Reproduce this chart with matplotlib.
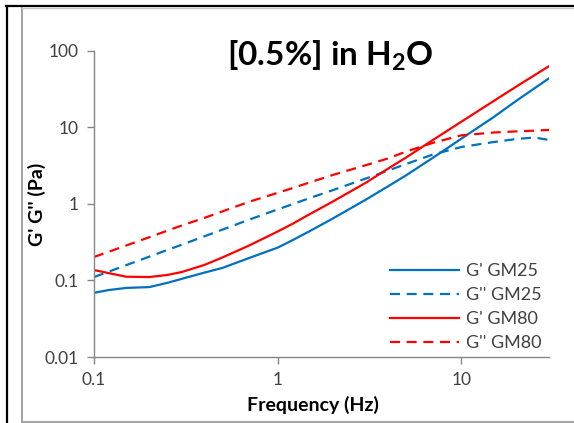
import matplotlib
matplotlib.use("Agg")
import matplotlib.pyplot as plt
from matplotlib.lines import Line2D

plt.rcParams['font.family'] = ['Lato', 'DejaVu Sans']
plt.rcParams['mathtext.fontset'] = 'custom'
plt.rcParams['mathtext.rm'] = 'Lato'
plt.rcParams['mathtext.bf'] = 'Lato:bold'

freq = [0.1, 0.12, 0.15, 0.2, 0.25, 0.3, 0.4, 0.5, 0.7, 1, 1.2, 1.5, 2, 3, 4, 5, 7, 10, 15, 20, 25, 30]
g1_gm25 = [0.069, 0.075, 0.080, 0.082, 0.093, 0.105, 0.127, 0.146, 0.197, 0.269, 0.335, 0.444, 0.648, 1.13, 1.71, 2.37, 4.02, 7.14, 13.7, 22.5, 32.5, 44.0]
g2_gm25 = [0.111, 0.130, 0.159, 0.205, 0.250, 0.293, 0.379, 0.462, 0.625, 0.85, 0.99, 1.20, 1.52, 2.14, 2.74, 3.33, 4.44, 5.56, 6.46, 7.08, 7.4, 6.87]
g1_gm80 = [0.137, 0.125, 0.112, 0.111, 0.118, 0.129, 0.160, 0.200, 0.287, 0.437, 0.548, 0.740, 1.08, 1.88, 2.91, 4.05, 6.87, 11.9, 22.2, 34.5, 48.2, 63.4]
g2_gm80 = [0.203, 0.237, 0.287, 0.368, 0.447, 0.523, 0.66, 0.80, 1.07, 1.40, 1.61, 1.92, 2.40, 3.2, 3.95, 4.85, 6.3, 7.9, 8.6, 8.9, 9.1, 9.3]
labels = ["G' GM25", "G'' GM25", "G' GM80", "G'' GM80"]
title = r"[0.5%] in H$_\mathbf{2}$O"

blue = "#0070C0"
red = "#FF0000"

fig = plt.figure(figsize=(5.74, 4.23), dpi=100)
ax = fig.add_axes([94/574, 1-357/423, (549-94)/574, (357-51)/423])

lw = 1.6
dash = (0, (4.5, 3))
ax.plot(freq, g1_gm25, color=blue, lw=lw, label=labels[0])
ax.plot(freq, g2_gm25, color=blue, lw=lw, linestyle=dash, label=labels[1])
ax.plot(freq, g1_gm80, color=red, lw=lw, label=labels[2])
ax.plot(freq, g2_gm80, color=red, lw=lw, linestyle=dash, label=labels[3])

ax.set_xscale('log')
ax.set_yscale('log')
ax.set_xlim(0.1, 30)
ax.set_ylim(0.01, 100)
ax.set_xticks([0.1, 1, 10])
ax.set_xticklabels(['0.1', '1', '10'])
ax.set_yticks([0.01, 0.1, 1, 10, 100])
ax.set_yticklabels(['0.01', '0.1', '1', '10', '100'])
ax.minorticks_off()
for s in ['top', 'right']:
    ax.spines[s].set_visible(False)
for s in ['left', 'bottom']:
    ax.spines[s].set_color('#868686')
    ax.spines[s].set_linewidth(1.0)
ax.tick_params(axis='both', which='major', direction='out', length=5, width=1,
               color='#868686', labelsize=12.5, labelcolor='#404040', pad=6)

ax.set_xlabel('Frequency (Hz)', fontsize=14, fontweight='bold')
ax.set_ylabel("G' G'' (Pa)", fontsize=14, fontweight='bold')
ax.xaxis.set_label_coords((313-94)/455, (357-396)/306)
ax.yaxis.set_label_coords((46-94)/455, 0.5)

ax.text((330-94)/455, (357-65)/306, title, transform=ax.transAxes, ha='center', va='baseline',
        fontsize=24, fontweight='bold')

leg = ax.legend(loc='lower right', bbox_to_anchor=(1.02, -0.035), frameon=False,
                fontsize=13, handlelength=3.8, handletextpad=0.4, labelspacing=0.45)
for t in leg.get_texts():
    t.set_color('#404040')

# frame of the screenshot
fig.add_artist(Line2D([6/574, 1], [1-6.5/423, 1-6.5/423], color='black', lw=1.6, transform=fig.transFigure))
fig.add_artist(Line2D([6.5/574, 6.5/574], [0, 1-6/423], color='black', lw=1.6, transform=fig.transFigure))
fig.add_artist(Line2D([22/574, 22/574], [1-421.5/423, 1-8.5/423], color='#A6A6A6', lw=1.5, transform=fig.transFigure))
fig.add_artist(Line2D([22/574, 1], [1-421.5/423, 1-421.5/423], color='#A6A6A6', lw=1.5, transform=fig.transFigure))
fig.add_artist(Line2D([22/574, 1], [1-8.5/423, 1-8.5/423], color='#C8C8C8', lw=1.0, transform=fig.transFigure))

fig.savefig('out.png', dpi=100)
